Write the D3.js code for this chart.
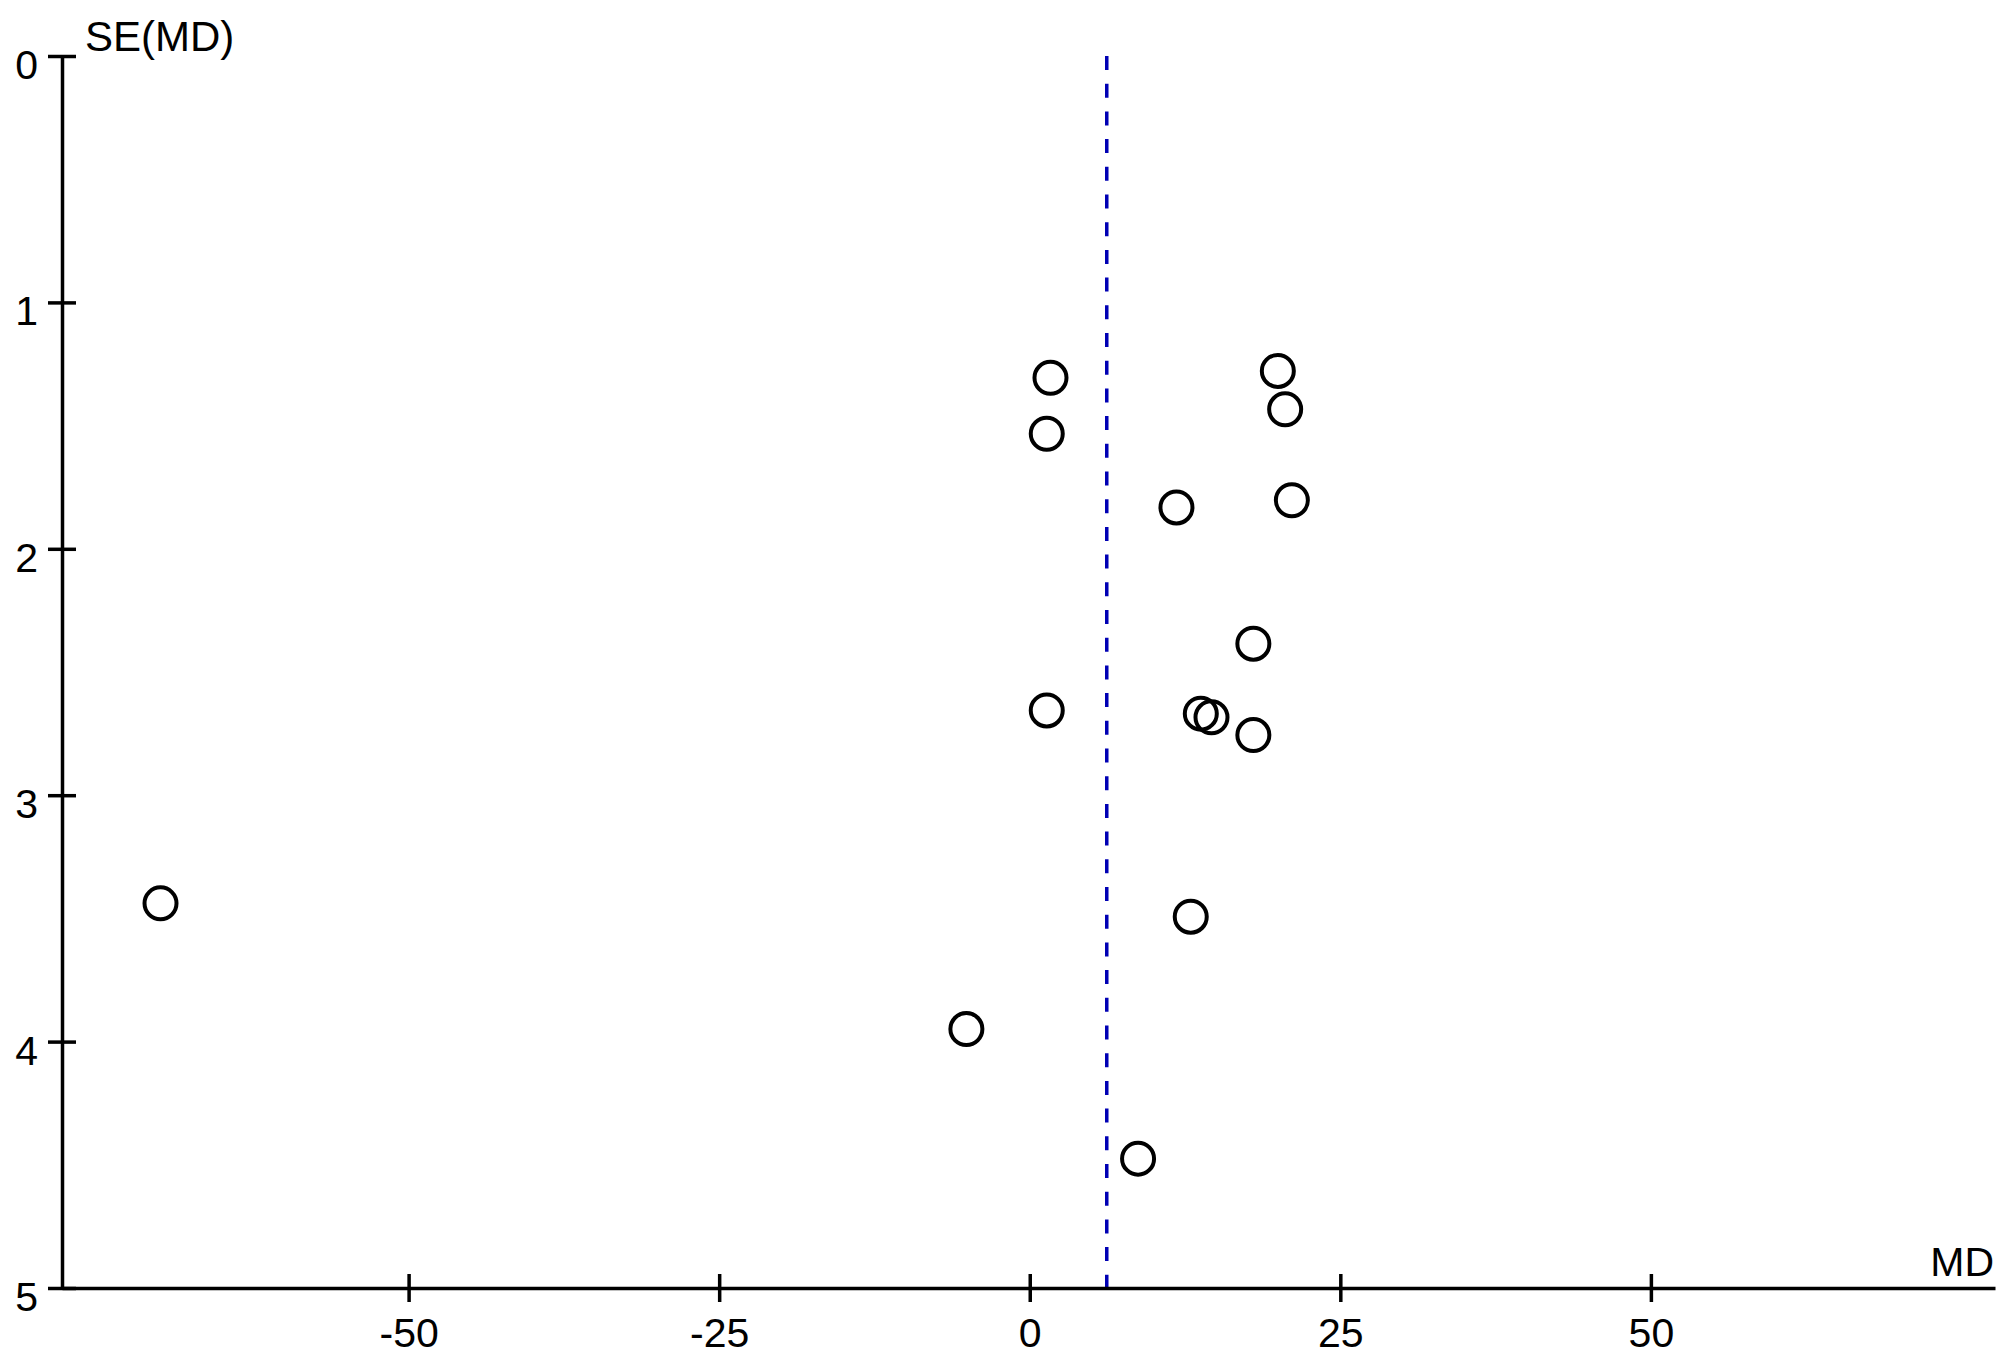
<!DOCTYPE html>
<html>
<head>
<meta charset="utf-8">
<script src="https://d3js.org/d3.v7.min.js"></script>
<style>
  html, body { margin: 0; padding: 0; background: #fff; }
  text { font-family: "Liberation Sans", Arial, sans-serif; fill: #000; }
</style>
</head>
<body>
<script>
// study estimates: mean difference and its standard error
var md = [1.67, 19.97, 1.37, 20.56, 11.81, 21.1, 18.0, 1.37, 13.77, 14.63, 18.0, -69.97, 12.96, -5.1, 8.72];
var se = [1.306, 1.278, 1.533, 1.434, 1.832, 1.803, 2.385, 2.656, 2.669, 2.684, 2.756, 3.439, 3.493, 3.949, 4.475];
var pooledMD = 6.2;
var xTicks = [-50, -25, 0, 25, 50];
var yTicks = [0, 1, 2, 3, 4, 5];

(function () {
  var W = 2000, H = 1361;
  var plotLeft = 62, plotRight = 1995, plotTop = 56, plotBottom = 1288;

  var svg = d3.select('body').append('svg')
    .attr('width', W)
    .attr('height', H);

  var x = d3.scaleLinear().domain([-77.9, 77.7]).range([plotLeft, plotRight]);
  var y = d3.scaleLinear().domain([0, 5]).range([plotTop, plotBottom]);
  var plain = function (d) { return String(d); };

  // pooled estimate
  svg.append('line')
    .attr('x1', x(pooledMD)).attr('x2', x(pooledMD))
    .attr('y1', y(0)).attr('y2', y(5))
    .attr('stroke', '#0000b4')
    .attr('stroke-width', 3.5)
    .attr('stroke-dasharray', '14,13.7');

  // y axis
  var yAxis = svg.append('g')
    .attr('transform', 'translate(' + plotLeft + ',0)')
    .call(d3.axisLeft(y).tickValues(yTicks).tickFormat(plain)
      .tickSize(14).tickSizeOuter(0).tickPadding(10));
  yAxis.select('.domain').attr('stroke-width', 3.5);
  yAxis.selectAll('.tick line').attr('x1', 14).attr('stroke-width', 3.5);
  yAxis.selectAll('.tick text')
    .attr('font-family', null).attr('font-size', null)
    .style('font-size', '41px')
    .attr('dy', '0.55em');

  // x axis
  var xAxis = svg.append('g')
    .attr('transform', 'translate(0,' + plotBottom + ')')
    .call(d3.axisBottom(x).tickValues(xTicks).tickFormat(plain)
      .tickSize(14).tickSizeOuter(0).tickPadding(12));
  xAxis.select('.domain').attr('stroke-width', 3.5);
  xAxis.selectAll('.tick line').attr('y1', -14).attr('stroke-width', 3.5);
  xAxis.selectAll('.tick text')
    .attr('font-family', null).attr('font-size', null)
    .style('font-size', '41px')
    .attr('dy', '0.8em');

  // axis titles
  svg.append('text')
    .attr('x', 85).attr('y', 51)
    .style('font-size', '42px')
    .text('SE(MD)');
  svg.append('text')
    .attr('x', 1994).attr('y', 1276)
    .attr('text-anchor', 'end')
    .style('font-size', '41px')
    .text('MD');

  // studies
  svg.selectAll('circle.study')
    .data(md)
    .enter()
    .append('circle')
    .attr('class', 'study')
    .attr('cx', function (d) { return x(d); })
    .attr('cy', function (d, i) { return y(se[i]); })
    .attr('r', 16)
    .attr('fill', 'none')
    .attr('stroke', '#000')
    .attr('stroke-width', 4);
})();
</script>
</body>
</html>
